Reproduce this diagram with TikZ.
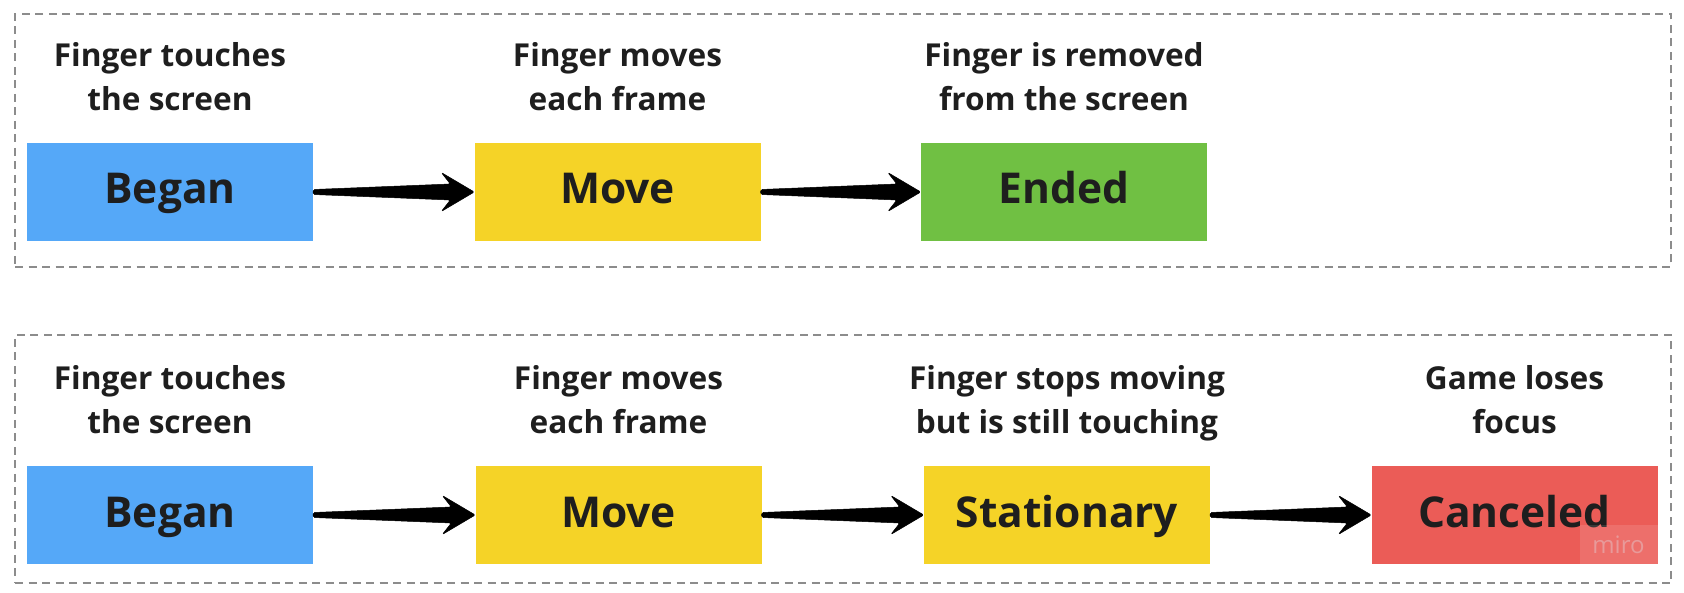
\documentclass[tikz,border=0pt]{standalone}
\usepackage{fontspec}
\setmainfont{Open Sans}
\usetikzlibrary{calc}
\definecolor{cblue}{HTML}{55A8F8}
\definecolor{cyellow}{HTML}{F5D327}
\definecolor{cgreen}{HTML}{70C043}
\definecolor{cred}{HTML}{EB5C57}
\definecolor{ctext}{HTML}{1E1E1E}
\definecolor{cframe}{HTML}{8C8C8C}
\definecolor{cwm}{HTML}{E89A9A}
\tikzset{
  state/.style={minimum width=286pt, minimum height=98pt, inner sep=0pt,
    text height=31pt, text depth=7pt,
    text=ctext, font=\fontsize{42.5}{48}\selectfont\bfseries},
  lbl/.style={align=center, text=ctext, inner sep=0pt, text depth=9pt,
    font=\fontsize{31.6}{44.5}\selectfont\bfseries},
  frame/.style={draw=cframe, line width=1.3pt, dash pattern=on 8pt off 5.5pt},
  fatarrow/.style={fill=black, draw=black, line width=0.5pt, rounded corners=1.5pt}
}
\newcommand\fatarr[2]{%
  \path[fatarrow] ($(#1.east)+(0,-2.5)$) -- ($(#2.west)+(-24,-8)$)
    -- ($(#2.west)+(-33,-19.5)$) -- (#2.west) -- ($(#2.west)+(-33,19.5)$)
    -- ($(#2.west)+(-24,8)$) -- ($(#1.east)+(0,2.5)$) -- cycle;}
\begin{document}
\begin{tikzpicture}[x=1pt,y=-1pt]
\useasboundingbox (0,0) rectangle (1684,593);
% frames
\node[frame, minimum width=1656pt, minimum height=253pt, inner sep=0pt] (f1) at (843,140.5) {};
\node[frame, minimum width=1656pt, minimum height=248pt, inner sep=0pt] (f2) at (843,459) {};
% row 1
\node[state, fill=cblue] (b1) at (170,192) {Began};
\node[state, fill=cyellow] (m1) at (617.5,192) {Move};
\node[state, fill=cgreen] (e1) at (1064,192) {Ended};
\node[lbl] (lb1) at (170,81) {Finger touches\\the screen};
\node[lbl] (lm1) at (617.5,81) {Finger moves\\each frame};
\node[lbl] (le1) at (1064,81) {Finger is removed\\from the screen};
\fatarr{b1}{m1}
\fatarr{m1}{e1}
% row 2
\node[state, fill=cblue] (b2) at (170,515) {Began};
\node[state, fill=cyellow] (m2) at (618.5,515) {Move};
\node[state, fill=cyellow] (s2) at (1067,515) {Stationary};
\node[state, fill=cred] (c2) at (1514.5,515) {Canceled};
\node[lbl] (lb2) at (170,404) {Finger touches\\the screen};
\node[lbl] (lm2) at (618.5,404) {Finger moves\\each frame};
\node[lbl] (ls2) at (1067,404) {Finger stops moving\\but is still touching};
\node[lbl] (lc2) at (1514.5,404) {Game loses\\focus};
\fatarr{b2}{m2}
\fatarr{m2}{s2}
\fatarr{s2}{c2}
% watermark
\node[fill=white, fill opacity=0.12, text opacity=1, text=cwm,
  minimum width=78pt, minimum height=39pt, inner sep=0pt,
  font=\fontsize{24}{28}\selectfont, anchor=south east] (wm) at (c2.south east) {miro};
\end{tikzpicture}
\end{document}
